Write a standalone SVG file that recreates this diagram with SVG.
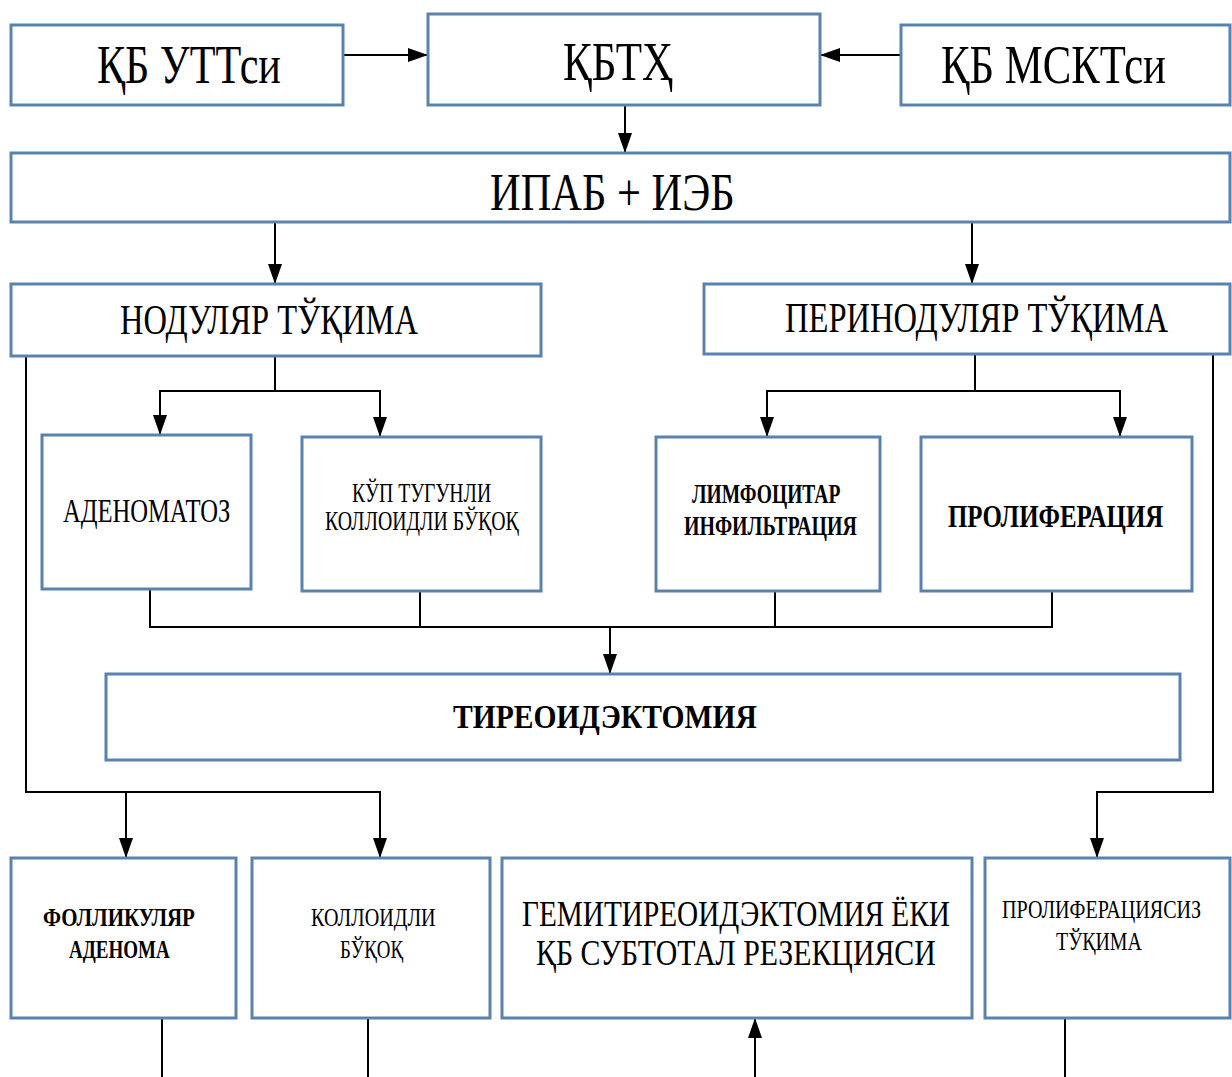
<svg xmlns="http://www.w3.org/2000/svg" width="1232" height="1077" viewBox="0 0 1232 1077">
<style>
.box{fill:#fff;stroke:#5a82ae;stroke-width:3}
text{font-family:"Liberation Serif","DejaVu Serif",serif;fill:#000}
.b{font-weight:bold}
.c{fill:none;stroke:#000;stroke-width:2}
</style>
<defs>
<marker id="ah" viewBox="0 0 20 14" refX="20" refY="7" markerWidth="20" markerHeight="14" orient="auto" markerUnits="userSpaceOnUse">
<path d="M0,0 L20,7 L0,14 z" fill="#000"/>
</marker>
</defs>
<rect width="1232" height="1077" fill="#fff"/>
<g id="connectors">
<line class="c" x1="343" y1="55" x2="428" y2="55" marker-end="url(#ah)"/>
<line class="c" x1="901" y1="55" x2="820" y2="55" marker-end="url(#ah)"/>
<line class="c" x1="625" y1="105" x2="625" y2="153" marker-end="url(#ah)"/>
<line class="c" x1="275" y1="222" x2="275" y2="284" marker-end="url(#ah)"/>
<line class="c" x1="972" y1="222" x2="972" y2="284" marker-end="url(#ah)"/>
<polyline class="c" points="275,356 275,391 160,391 160,435" marker-end="url(#ah)"/>
<polyline class="c" points="275,391 380,391 380,437" marker-end="url(#ah)"/>
<polyline class="c" points="975,354 975,391 767,391 767,437" marker-end="url(#ah)"/>
<polyline class="c" points="975,391 1120,391 1120,437" marker-end="url(#ah)"/>
<polyline class="c" points="150,589 150,627 1052,627 1052,591"/>
<line class="c" x1="420" y1="591" x2="420" y2="627"/>
<line class="c" x1="775" y1="591" x2="775" y2="627"/>
<line class="c" x1="610" y1="627" x2="610" y2="674" marker-end="url(#ah)"/>
<polyline class="c" points="26,356 26,792 126,792 126,858" marker-end="url(#ah)"/>
<polyline class="c" points="126,792 380,792 380,858" marker-end="url(#ah)"/>
<polyline class="c" points="1213,354 1213,792 1097,792 1097,858" marker-end="url(#ah)"/>
<line class="c" x1="162" y1="1018" x2="162" y2="1077"/>
<line class="c" x1="368" y1="1018" x2="368" y2="1077"/>
<line class="c" x1="755" y1="1077" x2="755" y2="1018" marker-end="url(#ah)"/>
<line class="c" x1="1065" y1="1018" x2="1065" y2="1077"/>
</g>
<g id="n_kb_utt">
<rect class="box" x="11" y="25" width="332" height="80"/>
<text transform="translate(97,83) scale(0.76,1)" font-size="54" textLength="242" lengthAdjust="spacingAndGlyphs">ҚБ УТТси</text>
</g>
<g id="n_kbth">
<rect class="box" x="428" y="14" width="392" height="91"/>
<text transform="translate(563,80) scale(0.76,1)" font-size="54" textLength="145" lengthAdjust="spacingAndGlyphs">ҚБТҲ</text>
</g>
<g id="n_kb_mskt">
<rect class="box" x="901" y="25" width="329" height="80"/>
<text transform="translate(941,83) scale(0.76,1)" font-size="54" textLength="296" lengthAdjust="spacingAndGlyphs">ҚБ МСКТси</text>
</g>
<g id="n_ipab">
<rect class="box" x="11" y="153" width="1219" height="69"/>
<text transform="translate(490,210) scale(0.76,1)" font-size="52" textLength="322" lengthAdjust="spacingAndGlyphs">ИПАБ + ИЭБ</text>
</g>
<g id="n_nodular">
<rect class="box" x="11" y="284" width="530" height="72"/>
<text transform="translate(120,334) scale(0.76,1)" font-size="42" textLength="392" lengthAdjust="spacingAndGlyphs">НОДУЛЯР ТЎҚИМА</text>
</g>
<g id="n_perinodular">
<rect class="box" x="704" y="284" width="526" height="70"/>
<text transform="translate(785,332) scale(0.76,1)" font-size="42" textLength="504" lengthAdjust="spacingAndGlyphs">ПЕРИНОДУЛЯР ТЎҚИМА</text>
</g>
<g id="n_adenomatoz">
<rect class="box" x="42" y="435" width="209" height="154"/>
<text transform="translate(63,522) scale(0.76,1)" font-size="33" textLength="220" lengthAdjust="spacingAndGlyphs">АДЕНОМАТОЗ</text>
</g>
<g id="n_kup">
<rect class="box" x="302" y="437" width="239" height="154"/>
<text transform="translate(352,502) scale(0.76,1)" font-size="27" textLength="183" lengthAdjust="spacingAndGlyphs">КЎП ТУГУНЛИ</text>
<text transform="translate(325,530) scale(0.76,1)" font-size="27" textLength="255" lengthAdjust="spacingAndGlyphs">КОЛЛОИДЛИ БЎҚОҚ</text>
</g>
<g id="n_limfo">
<rect class="box" x="656" y="437" width="224" height="154"/>
<text class="b" transform="translate(692,503) scale(0.72,1)" font-size="27" textLength="206" lengthAdjust="spacingAndGlyphs">ЛИМФОЦИТАР</text>
<text class="b" transform="translate(684,535) scale(0.72,1)" font-size="27" textLength="240" lengthAdjust="spacingAndGlyphs">ИНФИЛЬТРАЦИЯ</text>
</g>
<g id="n_prolif">
<rect class="box" x="921" y="437" width="271" height="154"/>
<text class="b" transform="translate(948,527) scale(0.72,1)" font-size="31" textLength="299" lengthAdjust="spacingAndGlyphs">ПРОЛИФЕРАЦИЯ</text>
</g>
<g id="n_tireo">
<rect class="box" x="106" y="674" width="1074" height="86"/>
<text class="b" transform="translate(453,728) scale(0.72,1)" font-size="33" textLength="422" lengthAdjust="spacingAndGlyphs">ТИРЕОИДЭКТОМИЯ</text>
</g>
<g id="n_follik">
<rect class="box" x="11" y="858" width="225" height="160"/>
<text class="b" transform="translate(43,926) scale(0.72,1)" font-size="26" textLength="211" lengthAdjust="spacingAndGlyphs">ФОЛЛИКУЛЯР</text>
<text class="b" transform="translate(69,958) scale(0.72,1)" font-size="26" textLength="140" lengthAdjust="spacingAndGlyphs">АДЕНОМА</text>
</g>
<g id="n_kolloid">
<rect class="box" x="252" y="858" width="238" height="160"/>
<text transform="translate(311,926) scale(0.76,1)" font-size="26" textLength="164" lengthAdjust="spacingAndGlyphs">КОЛЛОИДЛИ</text>
<text transform="translate(340,958) scale(0.76,1)" font-size="26" textLength="83" lengthAdjust="spacingAndGlyphs">БЎҚОҚ</text>
</g>
<g id="n_gemi">
<rect class="box" x="502" y="858" width="470" height="160"/>
<text transform="translate(522,926) scale(0.76,1)" font-size="36" textLength="563" lengthAdjust="spacingAndGlyphs">ГЕМИТИРЕОИДЭКТОМИЯ ЁКИ</text>
<text transform="translate(536,965) scale(0.76,1)" font-size="36" textLength="526" lengthAdjust="spacingAndGlyphs">ҚБ СУБТОТАЛ РЕЗЕКЦИЯСИ</text>
</g>
<g id="n_prolifsiz">
<rect class="box" x="985" y="858" width="245" height="160"/>
<text transform="translate(1002,918) scale(0.76,1)" font-size="26" textLength="262" lengthAdjust="spacingAndGlyphs">ПРОЛИФЕРАЦИЯСИЗ</text>
<text transform="translate(1056,950) scale(0.76,1)" font-size="26" textLength="113" lengthAdjust="spacingAndGlyphs">ТЎҚИМА</text>
</g>
</svg>
